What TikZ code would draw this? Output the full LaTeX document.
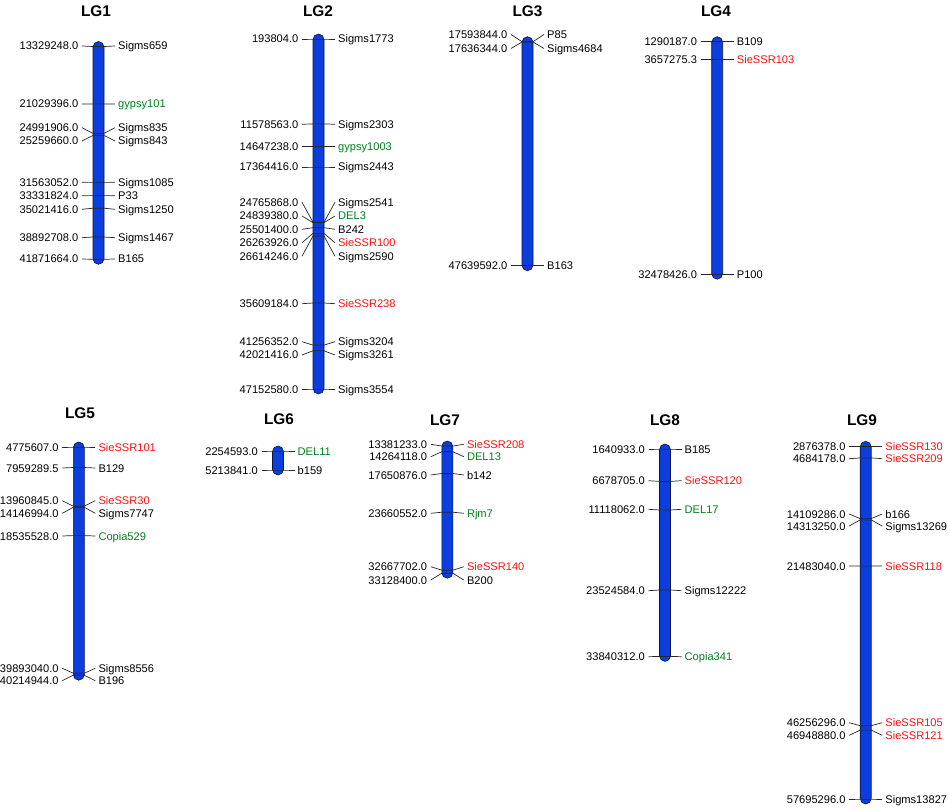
\documentclass[tikz,border=0pt]{standalone}
\usepackage{fontspec}
\setmainfont{Liberation Sans}
\definecolor{barblue}{RGB}{12,62,222}
\definecolor{bardark}{RGB}{10,20,70}
\definecolor{lgred}{RGB}{255,16,16}
\definecolor{lggreen}{RGB}{0,128,30}
\newcommand{\marker}[6]{%
  \node[poslbl] (p-#5) at (#1-20,#3) {#4};
  \node[mklbl, text=#6] (m-#5) at (#1+19.5,#3) {#5};
  \draw[tick] ([xshift=3.5pt]p-#5.east) -- (#1-5.5,#2) -- (#1+5.5,#2) -- ([xshift=-3pt]m-#5.west);
}
\newcommand{\chrom}[3]{%
  \draw[chrombar] (#1-5.5,#2) rectangle (#1+5.5,#3);
}
\begin{document}
\begin{tikzpicture}[x=1pt, y=-1pt,
    poslbl/.style={anchor=east, inner sep=0pt, text height=8pt, text depth=0pt, font=\fontsize{11.1}{13}\selectfont},
    mklbl/.style={anchor=west, inner sep=0pt, text height=8pt, text depth=0pt, font=\fontsize{11.1}{13}\selectfont},
    tick/.style={black!85, line width=0.7pt},
    chrombar/.style={fill=barblue, draw=bardark, line width=0.6pt, rounded corners=5.5pt},
    title/.style={font=\fontsize{15.4}{18}\selectfont\bfseries, inner sep=0pt}]
  \useasboundingbox (0,0) rectangle (948,810);

  \node[title] (t-lg1) at (96,11) {LG1};
  \node[title] (t-lg2) at (318,11) {LG2};
  \node[title] (t-lg3) at (527.5,11) {LG3};
  \node[title] (t-lg4) at (716,11) {LG4};
  \node[title] (t-lg5) at (80,413) {LG5};
  \node[title] (t-lg6) at (279,419) {LG6};
  \node[title] (t-lg7) at (445,420) {LG7};
  \node[title] (t-lg8) at (665,420) {LG8};
  \node[title] (t-lg9) at (862,420) {LG9};

  \chrom{98.5}{41.5}{264.3}
  \chrom{318.5}{34}{394}
  \chrom{527.5}{36.7}{270.7}
  \chrom{717.2}{36.7}{279.2}
  \chrom{78.8}{442}{680.2}
  \chrom{278}{446}{475}
  \chrom{447.3}{441}{578.2}
  \chrom{665}{444}{661.4}
  \chrom{865.7}{441.3}{804}

  % LG1
  \marker{98.5}{46.5}{46}{13329248.0}{Sigms659}{black}
  \marker{98.5}{103.9}{104}{21029396.0}{gypsy101}{lggreen}
  \marker{98.5}{133.4}{127.7}{24991906.0}{Sigms835}{black}
  \marker{98.5}{135.4}{141}{25259660.0}{Sigms843}{black}
  \marker{98.5}{182.4}{182.3}{31563052.0}{Sigms1085}{black}
  \marker{98.5}{195.6}{195.7}{33331824.0}{P33}{black}
  \marker{98.5}{208.2}{209.3}{35021416.0}{Sigms1250}{black}
  \marker{98.5}{237}{237.7}{38892708.0}{Sigms1467}{black}
  \marker{98.5}{259.3}{259}{41871664.0}{B165}{black}

  % LG2
  \marker{318.5}{39}{39}{193804.0}{Sigms1773}{black}
  \marker{318.5}{123.9}{124.3}{11578563.0}{Sigms2303}{black}
  \marker{318.5}{146.7}{146.7}{14647238.0}{gypsy1003}{lggreen}
  \marker{318.5}{167}{167}{17364416.0}{Sigms2443}{black}
  \marker{318.5}{222.2}{202.3}{24765868.0}{Sigms2541}{black}
  \marker{318.5}{222.7}{216}{24839380.0}{DEL3}{lggreen}
  \marker{318.5}{227.7}{229.3}{25501400.0}{B242}{black}
  \marker{318.5}{233.4}{242.7}{26263926.0}{SieSSR100}{lgred}
  \marker{318.5}{236}{256.3}{26614246.0}{Sigms2590}{black}
  \marker{318.5}{303}{303.7}{35609184.0}{SieSSR238}{lgred}
  \marker{318.5}{345.1}{341.7}{41256352.0}{Sigms3204}{black}
  \marker{318.5}{350.8}{355}{42021416.0}{Sigms3261}{black}
  \marker{318.5}{389}{389}{47152580.0}{Sigms3554}{black}

  % LG3
  \marker{527.5}{41.7}{34.5}{17593844.0}{P85}{black}
  \marker{527.5}{42}{48.5}{17636344.0}{Sigms4684}{black}
  \marker{527.5}{265.7}{265.7}{47639592.0}{B163}{black}

  % LG4
  \marker{717.2}{41.7}{41.7}{1290187.0}{B109}{black}
  \marker{717.2}{59.3}{59.3}{3657275.3}{SieSSR103}{lgred}
  \marker{717.2}{274.2}{274.2}{32478426.0}{P100}{black}

  % LG5
  \marker{78.8}{447}{447}{4775607.0}{SieSSR101}{lgred}
  \marker{78.8}{467.5}{468}{7959289.5}{B129}{black}
  \marker{78.8}{506.2}{500.7}{13960845.0}{SieSSR30}{lgred}
  \marker{78.8}{507.3}{513.3}{14146994.0}{Sigms7747}{black}
  \marker{78.8}{535.6}{536}{18535528.0}{Copia529}{lggreen}
  \marker{78.8}{673.2}{668.3}{39893040.0}{Sigms8556}{black}
  \marker{78.8}{675.2}{680.7}{40214944.0}{B196}{black}

  % LG6
  \marker{278}{451}{451}{2254593.0}{DEL11}{lggreen}
  \marker{278}{470}{470}{5213841.0}{b159}{black}

  % LG7
  \marker{447.3}{446}{444.3}{13381233.0}{SieSSR208}{lgred}
  \marker{447.3}{451.7}{456.7}{14264118.0}{DEL13}{lggreen}
  \marker{447.3}{473.5}{475}{17650876.0}{b142}{black}
  \marker{447.3}{512.2}{513.3}{23660552.0}{Rjm7}{lggreen}
  \marker{447.3}{570.2}{566.7}{32667702.0}{SieSSR140}{lgred}
  \marker{447.3}{573.2}{580}{33128400.0}{B200}{black}

  % LG8
  \marker{665}{449}{449}{1640933.0}{B185}{black}
  \marker{665}{481.4}{480.7}{6678705.0}{SieSSR120}{lgred}
  \marker{665}{510}{509.3}{11118062.0}{DEL17}{lggreen}
  \marker{665}{590}{590.7}{23524584.0}{Sigms12222}{black}
  \marker{665}{656.4}{656.7}{33840312.0}{Copia341}{lggreen}

  % LG9
  \marker{865.7}{446.3}{446.3}{2876378.0}{SieSSR130}{lgred}
  \marker{865.7}{457.9}{458.7}{4684178.0}{SieSSR209}{lgred}
  \marker{865.7}{518.6}{514}{14109286.0}{b166}{black}
  \marker{865.7}{519.9}{526}{14313250.0}{Sigms13269}{black}
  \marker{865.7}{566.1}{566}{21483040.0}{SieSSR118}{lgred}
  \marker{865.7}{725.7}{722.7}{46256296.0}{SieSSR105}{lgred}
  \marker{865.7}{730.1}{735.3}{46948880.0}{SieSSR121}{lgred}
  \marker{865.7}{799}{799}{57695296.0}{Sigms13827}{black}
\end{tikzpicture}
\end{document}
